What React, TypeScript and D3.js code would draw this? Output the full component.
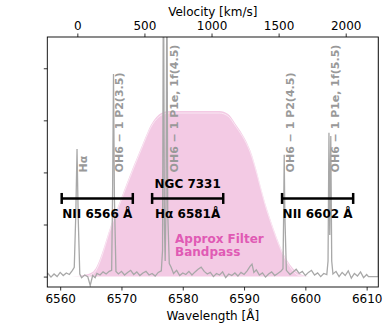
import * as d3 from 'd3';
import React, { useEffect, useRef } from 'react';

// spectrum: [wavelength (Å), flux]
const spectrum: [number, number][] = [
  [6557.5, 0.02], [6558.0, 0.06], [6558.5, -0.01], [6559.0, 0.05], [6559.5, 0.0],
  [6560.0, 0.08], [6560.5, 0.02], [6561.0, 0.07], [6561.5, 0.04], [6562.0, 0.12],
  [6562.3, 0.18], [6562.55, 1.2], [6562.75, 2.45], [6562.95, 1.1], [6563.2, 0.05],
  [6563.5, -0.02], [6564.0, 0.03], [6564.5, 0.0], [6564.9, -0.17], [6565.3, 0.02],
  [6565.7, -0.02], [6566.0, 0.06], [6566.5, 0.03], [6567.0, 0.09], [6567.5, 0.05],
  [6568.0, 0.1], [6568.4, 0.12], [6568.55, 1.6], [6568.7, 3.89], [6568.85, 1.5],
  [6569.1, 0.1], [6569.5, 0.05], [6570.0, 0.1], [6570.5, 0.03], [6571.0, 0.08],
  [6571.5, 0.12], [6572.0, 0.04], [6572.5, 0.09], [6573.0, 0.02], [6573.5, 0.07],
  [6574.0, 0.1], [6574.5, 0.03], [6575.0, 0.06], [6575.5, 0.01], [6576.0, 0.08],
  [6576.5, 0.11], [6576.7, 0.5], [6576.85, 6.5], [6577.0, 1.0], [6577.13, 0.3],
  [6577.28, 1.5], [6577.41, 6.0], [6577.55, 1.2], [6577.8, 0.25], [6578.1, 0.18],
  [6578.5, 0.06], [6579.0, 0.12], [6579.5, 0.02], [6580.0, 0.07], [6580.5, 0.04],
  [6581.0, 0.1], [6581.5, 0.03], [6582.0, 0.09], [6582.5, 0.14], [6583.0, 0.18],
  [6583.5, 0.1], [6584.0, 0.05], [6584.5, 0.08], [6585.0, 0.0], [6585.5, 0.06],
  [6586.0, 0.03], [6586.5, 0.09], [6587.0, -0.02], [6587.5, 0.05], [6588.0, 0.02],
  [6588.5, 0.07], [6589.0, 0.01], [6589.5, 0.08], [6590.0, 0.04], [6590.5, 0.11],
  [6591.0, 0.2], [6591.3, 0.24], [6591.6, 0.08], [6592.0, 0.13], [6592.5, 0.03],
  [6593.0, 0.07], [6593.5, -0.01], [6594.0, 0.05], [6594.5, 0.09], [6595.0, 0.02],
  [6595.5, 0.06], [6596.0, 0.1], [6596.35, 0.15], [6596.45, 1.1], [6596.55, 2.34],
  [6596.65, 1.2], [6596.9, 0.12], [6597.5, 0.04], [6598.0, 0.09], [6598.5, 0.14],
  [6599.0, 0.06], [6599.5, 0.1], [6600.0, 0.02], [6600.5, 0.08], [6601.0, 0.12],
  [6601.5, 0.03], [6602.0, 0.07], [6602.5, 0.0], [6603.0, 0.06], [6603.5, 0.04],
  [6603.7, 0.3], [6603.85, 2.76], [6603.98, 0.8], [6604.15, 2.7], [6604.3, 0.3],
  [6604.5, 0.05], [6605.0, 0.1], [6605.5, 0.0], [6606.0, 0.08], [6606.5, 0.02],
  [6607.0, 0.11], [6607.5, -0.03], [6608.0, 0.06], [6608.5, 0.01], [6609.0, 0.09],
  [6609.5, -0.02], [6610.0, 0.04], [6610.3, 0.0], [6611.9, 0.0], [6611.95, 8],
];

// approximate filter transmission curve
const bandWave = [6561.8, 6563.8, 6565.4, 6568.6, 6573.05, 6575.0, 6576.5, 6577.8, 6586.0, 6587.4, 6588.5, 6591.0, 6593.8, 6597.0, 6599.0, 6600.8];
const bandTrans = [0, 0.03, 0.1, 1.09, 2.43, 2.95, 3.14, 3.18, 3.18, 3.12, 2.95, 2.43, 1.28, 0.32, 0.06, 0];

// sky / emission line labels
const lineWave = [6562.8, 6568.78, 6577.7, 6596.64, 6603.99];
const lineNames = ['Hα', 'OH6 − 1 P2(3.5)', 'OH6 − 1 P1e, 1f(4.5)', 'OH6 − 1 P2(4.5)', 'OH6 − 1 P1e, 1f(5.5)'];
const lineLabelY = 2.0;

// galaxy line ranges
const barCenter = [6566.05, 6580.8, 6602.0];
const barHalfWidth = 5.8;
const barLabels = ['NII 6566 Å', 'Hα 6581Å', 'NII 6602 Å'];
const barY = 1.5;

const xTicks = [6560, 6570, 6580, 6590, 6600, 6610];
const velTicks = [0, 500, 1000, 1500, 2000];
const yTicks = [0, 1, 2, 3, 4];
const restWave = 6562.8;
const cLight = 299792.458;

const W = 389;
const H = 330;
const M = { left: 47.3, right: 378.3, top: 37, bottom: 287 };
const FONT = 'DejaVu Sans, sans-serif';

export default function App() {
  const bottomRef = useRef<SVGGElement>(null);
  const topRef = useRef<SVGGElement>(null);
  const leftRef = useRef<SVGGElement>(null);

  const x = d3.scaleLinear().domain([6557.9, 6611.9]).range([M.left, M.right]);
  const y = d3.scaleLinear().domain([-0.2, 4.6]).range([M.bottom, M.top]);
  const vx = (v: number) => x(restWave * (1 + v / cLight));

  const specLine = d3
    .line<[number, number]>()
    .x(d => x(d[0]))
    .y(d => y(d[1]));

  const band = bandWave.map((w, i) => [w, bandTrans[i]] as [number, number]);
  const bandArea = d3
    .area<[number, number]>()
    .x(d => x(d[0]))
    .y0(y(0))
    .y1(d => y(d[1]))
    .curve(d3.curveMonotoneX);
  const bandInner = d3
    .line<[number, number]>()
    .x(d => x(d[0]))
    .y(d => y(Math.max(0, d[1] - 0.04)))
    .curve(d3.curveMonotoneX);

  useEffect(() => {
    const style = (g: d3.Selection<SVGGElement, unknown, null, undefined>) => {
      g.select('.domain').remove();
      g.selectAll('.tick line').attr('stroke', '#000').attr('stroke-width', 0.8);
      g.selectAll('.tick text').attr('font-family', FONT).attr('font-size', 12).attr('fill', '#000');
    };
    d3.select(bottomRef.current!)
      .call(d3.axisBottom(x).tickValues(xTicks).tickFormat(d3.format('d')).tickSize(3.5).tickPadding(4))
      .call(style);
    const velScale = d3.scaleLinear().domain([0, 2000]).range([vx(0), vx(2000)]);
    d3.select(topRef.current!)
      .call(d3.axisTop(velScale).tickValues(velTicks).tickFormat(d3.format('d')).tickSize(3.5).tickPadding(3.5))
      .call(style);
    d3.select(leftRef.current!)
      .call(d3.axisLeft(y).tickValues(yTicks).tickFormat(() => '').tickSize(3.5))
      .call(style);
  }, []);

  return (
    <svg width={W} height={H} style={{ position: 'absolute', left: 0, top: 0 }} fontFamily={FONT}>
      <rect width={W} height={H} fill="#fff" />
      <defs>
        <clipPath id="plot">
          <rect x={M.left} y={M.top} width={M.right - M.left} height={M.bottom - M.top} />
        </clipPath>
      </defs>
      <g clipPath="url(#plot)">
        <path d={bandArea(band)!} fill="#f3cae4" />
        <path d={bandInner(band)!} fill="none" stroke="#fff" strokeOpacity={0.55} strokeWidth={1} />
        <path d={specLine(spectrum)!} fill="none" stroke="#a8a8a8" strokeWidth={1.3} />
      </g>
      <rect
        x={M.left}
        y={M.top}
        width={M.right - M.left}
        height={M.bottom - M.top}
        fill="none"
        stroke="#000"
        strokeWidth={0.9}
      />
      <g ref={bottomRef} transform={`translate(0,${M.bottom})`} />
      <g ref={topRef} transform={`translate(0,${M.top})`} />
      <g ref={leftRef} transform={`translate(${M.left},0)`} />

      {lineNames.map((name, i) => {
        const px = x(lineWave[i]) + 9.5;
        const py = y(lineLabelY);
        return (
          <text
            key={name}
            transform={`translate(${px},${py}) rotate(-90)`}
            fontSize={11}
            fontWeight="bold"
            fill="#999"
          >
            {name}
          </text>
        );
      })}

      {barCenter.map((c, i) => {
        const x0 = x(c - barHalfWidth);
        const x1 = x(c + barHalfWidth);
        const yy = y(barY);
        return (
          <g key={barLabels[i]}>
            <line x1={x0} x2={x1} y1={yy} y2={yy} stroke="#000" strokeWidth={2.5} />
            <line x1={x0} x2={x0} y1={yy - 5.5} y2={yy + 5.5} stroke="#000" strokeWidth={2.5} />
            <line x1={x1} x2={x1} y1={yy - 5.5} y2={yy + 5.5} stroke="#000" strokeWidth={2.5} />
            <text x={x(c)} y={yy + 20} textAnchor="middle" fontSize={12} fontWeight="bold" fill="#000">
              {barLabels[i]}
            </text>
          </g>
        );
      })}
      <text x={x(barCenter[1])} y={y(barY) - 10.4} textAnchor="middle" fontSize={12} fontWeight="bold" fill="#000">
        NGC 7331
      </text>

      <text x={175} y={243} fontSize={12} fontWeight="bold" fill="#e05ab4">
        <tspan x={175}>Approx Filter</tspan>
        <tspan x={175} dy={13}>Bandpass</tspan>
      </text>

      <text x={(M.left + M.right) / 2} y={320} textAnchor="middle" fontSize={12} fill="#000">
        Wavelength [Å]
      </text>
      <text x={(M.left + M.right) / 2} y={16} textAnchor="middle" fontSize={12} fill="#000">
        Velocity [km/s]
      </text>
    </svg>
  );
}
